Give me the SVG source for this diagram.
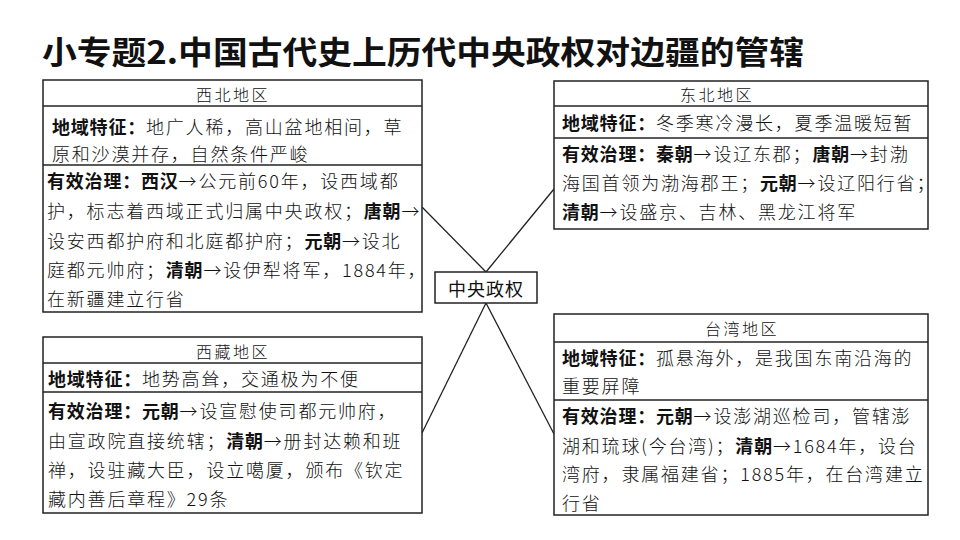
<svg xmlns="http://www.w3.org/2000/svg" width="960" height="540" viewBox="0 0 960 540">
<style>
.box{fill:#fff;stroke:#222;stroke-width:1.5}
.sep{stroke:#222;stroke-width:1.5}
.conn{stroke:#222;stroke-width:1.3;fill:none}
text{font-family:"Noto Sans CJK SC","Noto Sans CJK JP",sans-serif;fill:#111}
.title{font-size:32px;font-weight:bold}
.hd{font-size:16px;letter-spacing:2.5px;text-anchor:middle;dominant-baseline:central;font-weight:300}
.t{font-size:18px;letter-spacing:1.8px;dominant-baseline:central;font-weight:300}
.b{font-weight:bold;letter-spacing:0.8px}
.center{font-size:18px;letter-spacing:1px;text-anchor:middle;dominant-baseline:central}
</style>
<rect width="960" height="540" fill="#fff"/>
<text class="title" x="42" y="64" textLength="762" lengthAdjust="spacingAndGlyphs">小专题2.中国古代史上历代中央政权对边疆的管辖</text>

<g id="connectors">
<line class="conn" x1="486" y1="272" x2="422" y2="207"/>
<line class="conn" x1="486" y1="272" x2="554" y2="189"/>
<line class="conn" x1="486" y1="303" x2="422" y2="433"/>
<line class="conn" x1="486" y1="303" x2="554" y2="434"/>
</g>

<g id="center">
<rect class="box" x="435" y="272" width="102" height="31"/>
<text class="center" x="486" y="288">中央政权</text>
</g>

<g id="northwest">
<rect class="box" x="43" y="80" width="379" height="232"/>
<line class="sep" x1="43" y1="106" x2="422" y2="106"/>
<line class="sep" x1="43" y1="165" x2="422" y2="165"/>
<text class="hd" x="233" y="94">西北地区</text>
<text class="t" x="52" y="126"><tspan class="b">地域特征：</tspan>地广人稀，高山盆地相间，草</text>
<text class="t" x="52" y="153">原和沙漠并存，自然条件严峻</text>
<text class="t" x="47" y="180"><tspan class="b">有效治理：西汉</tspan>→公元前60年，设西域都</text>
<text class="t" x="47" y="210">护，标志着西域正式归属中央政权；<tspan class="b">唐朝</tspan>→</text>
<text class="t" x="47" y="240">设安西都护府和北庭都护府；<tspan class="b">元朝</tspan>→设北</text>
<text class="t" x="47" y="269">庭都元帅府；<tspan class="b">清朝</tspan>→设伊犁将军，1884年，</text>
<text class="t" x="47" y="298">在新疆建立行省</text>
</g>

<g id="tibet">
<rect class="box" x="43" y="337" width="379" height="176"/>
<line class="sep" x1="43" y1="363" x2="422" y2="363"/>
<line class="sep" x1="43" y1="392" x2="422" y2="392"/>
<text class="hd" x="233" y="351">西藏地区</text>
<text class="t" x="48" y="378"><tspan class="b">地域特征：</tspan>地势高耸，交通极为不便</text>
<text class="t" x="48" y="410"><tspan class="b">有效治理：元朝</tspan>→设宣慰使司都元帅府，</text>
<text class="t" x="48" y="440">由宣政院直接统辖；<tspan class="b">清朝</tspan>→册封达赖和班</text>
<text class="t" x="48" y="469">禅，设驻藏大臣，设立噶厦，颁布《钦定</text>
<text class="t" x="48" y="498">藏内善后章程》29条</text>
</g>

<g id="northeast">
<rect class="box" x="554" y="81" width="374" height="148"/>
<line class="sep" x1="554" y1="106" x2="928" y2="106"/>
<line class="sep" x1="554" y1="138" x2="928" y2="138"/>
<text class="hd" x="717" y="94">东北地区</text>
<text class="t" x="562" y="122"><tspan class="b">地域特征：</tspan>冬季寒冷漫长，夏季温暖短暂</text>
<text class="t" x="562" y="153"><tspan class="b">有效治理：秦朝</tspan>→设辽东郡；<tspan class="b">唐朝</tspan>→封渤</text>
<text class="t" x="562" y="182">海国首领为渤海郡王；<tspan class="b">元朝</tspan>→设辽阳行省；</text>
<text class="t" x="562" y="211"><tspan class="b">清朝</tspan>→设盛京、吉林、黑龙江将军</text>
</g>

<g id="taiwan">
<rect class="box" x="554" y="314" width="374" height="201"/>
<line class="sep" x1="554" y1="342" x2="928" y2="342"/>
<line class="sep" x1="554" y1="400" x2="928" y2="400"/>
<text class="hd" x="742" y="328">台湾地区</text>
<text class="t" x="562" y="357"><tspan class="b">地域特征：</tspan>孤悬海外，是我国东南沿海的</text>
<text class="t" x="562" y="385">重要屏障</text>
<text class="t" x="562" y="415"><tspan class="b">有效治理：元朝</tspan>→设澎湖巡检司，管辖澎</text>
<text class="t" x="562" y="445">湖和琉球(今台湾)；<tspan class="b">清朝</tspan>→1684年，设台</text>
<text class="t" x="562" y="473">湾府，隶属福建省；1885年，在台湾建立</text>
<text class="t" x="562" y="502">行省</text>
</g>
</svg>
